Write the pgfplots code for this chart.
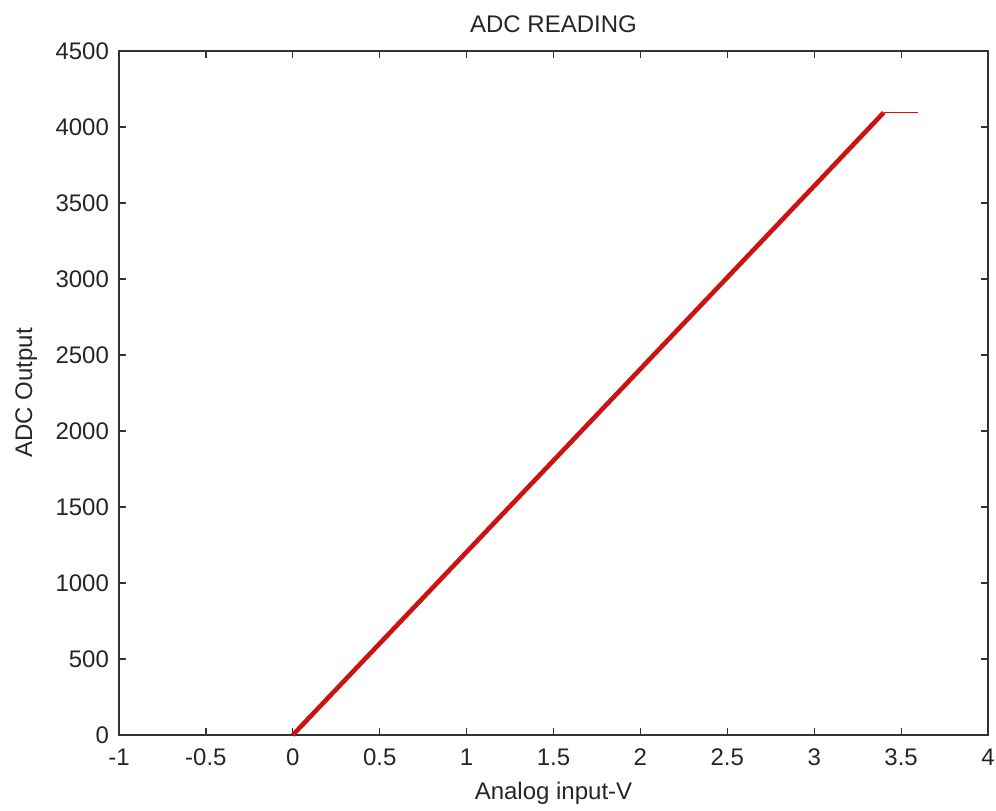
\documentclass[border=0pt]{standalone}
\usepackage{fontspec}
\setmainfont{Liberation Sans}
\usepackage{pgfplots}
\pgfplotsset{compat=1.18}
\definecolor{adcred}{RGB}{205,18,18}
\begin{document}
\begin{tikzpicture}
\begin{axis}[
  name=main,
  scale only axis,
  width=434.5pt, height=342pt,
  xmin=-1, xmax=4, ymin=0, ymax=4500,
  xtick={-1,-0.5,0,0.5,1,1.5,2,2.5,3,3.5,4},
  xticklabels={-1,-0.5,0,0.5,1,1.5,2,2.5,3,3.5,4},
  ytick={0,500,1000,1500,2000,2500,3000,3500,4000,4500},
  yticklabels={0,500,1000,1500,2000,2500,3000,3500,4000,4500},
  tick align=inside,
  major tick length=3.5pt,
  axis line style={line width=0.6pt, black!80},
  every tick/.style={line width=0.6pt, black!80},
  tick label style={font=\fontsize{12}{14}\selectfont, text=black!85},
  xticklabel style={yshift=-3.5pt},
  yticklabel style={xshift=-1.5pt},
  title={ADC READING},
  title style={at={(axis description cs:0.5,1.0102)}, anchor=base, font=\fontsize{12}{14}\selectfont, text=black!85, yshift=0pt},
  xlabel={Analog input-V},
  xlabel style={at={(axis description cs:0.5,-0.095)}, anchor=base, font=\fontsize{12}{14}\selectfont, text=black!85},
  ylabel={ADC Output},
  ylabel style={at={(axis description cs:-0.1,0.5)}, anchor=base, rotate=0, font=\fontsize{12}{14}\selectfont, text=black!85},
  clip=false,
]
\addplot[adcred, line width=2.3pt, no markers] coordinates {
  (0,0) (0.5,602) (1,1204) (1.5,1806) (2,2408) (2.5,3010) (3,3612) (3.4,4095)
};
\addplot[adcred, line width=0.7pt, no markers] coordinates {
  (3.4,4095) (3.6,4095)
};
\coordinate (sw) at (rel axis cs:0,0);
\coordinate (ne) at (rel axis cs:1,1);
\end{axis}
\pgfresetboundingbox
\useasboundingbox ([xshift=-59.5pt,yshift=-37.5pt]sw) rectangle ([xshift=4pt,yshift=25.5pt]ne);
\end{tikzpicture}
\end{document}
